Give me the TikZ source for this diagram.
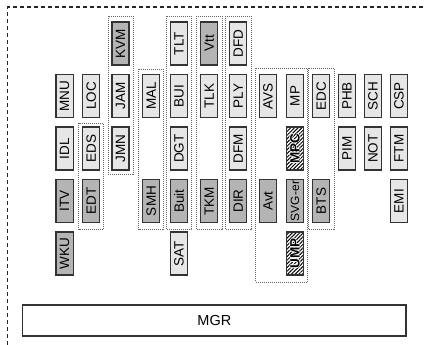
\documentclass[tikz,border=0pt]{standalone}
\usepackage{fontspec}
\setmainfont{Liberation Sans}
\usetikzlibrary{calc,patterns.meta}
\definecolor{lightfill}{HTML}{E6E6E6}
\definecolor{darkfill}{HTML}{B4B4B4}
\definecolor{edge}{HTML}{333333}
\tikzset{
  box/.style={draw=edge, line width=1.2bp, minimum width=17bp, minimum height=43bp,
    inner sep=0pt, font=\fontsize{13.5bp}{15bp}\selectfont},
  lbox/.style={box, fill=lightfill},
  dbox/.style={box, fill=darkfill},
  hbox/.style={box, fill=white, pattern={Lines[angle=45,distance=2.6bp,line width=1bp]}},
  grp/.style={draw=black!60, line width=0.75bp, dash pattern=on 1bp off 1bp},
  frame/.style={draw=black!85, line width=1.1bp, dash pattern=on 4bp off 3bp},
  mgrbox/.style={draw=edge, line width=1.2bp, fill=white, inner sep=0pt,
    font=\fontsize{14.5bp}{16bp}\selectfont}
}
\newcommand{\rt}[1]{\rotatebox{90}{#1}}
\newcommand{\halotext}[1]{\leavevmode
  \rlap{\color{white}\hspace{-0.7bp}#1}%
  \rlap{\color{white}\hspace{0.7bp}#1}%
  \rlap{\color{white}\raisebox{0.7bp}{#1}}%
  \rlap{\color{white}\raisebox{-0.7bp}{#1}}%
  #1}
\begin{document}
\begin{tikzpicture}[x=1bp,y=-1bp]
\useasboundingbox (0,0) rectangle (425,345);
% outer frame
\coordinate (fa) at (7.5,345);
\coordinate (fb) at (7.5,7);
\coordinate (fc) at (425,7);
\draw[frame] (fa) -- (fb) -- (fc);
% row 1
\node[dbox] (KVM) at (120.5,43.5) {\rt{KVM}};
\node[lbox] (TLT) at (179,43.5) {\rt{TLT}};
\node[dbox] (Vtt) at (209.3,43.5) {\rt{Vtt}};
\node[lbox] (DFD) at (238.3,43.5) {\rt{DFD}};
% row 2
\node[lbox] (MNU) at (64.6,96) {\rt{MNU}};
\node[lbox] (LOC) at (91.2,96) {\rt{LOC}};
\node[lbox] (JAM) at (120.5,96) {\rt{JAM}};
\node[lbox] (MAL) at (151.2,96) {\rt{MAL}};
\node[lbox] (BUI) at (179,96) {\rt{BUI}};
\node[lbox] (TLK) at (209.3,96) {\rt{TLK}};
\node[lbox] (PLY) at (238.3,96) {\rt{PLY}};
\node[lbox] (AVS) at (268,96) {\rt{AVS}};
\node[lbox] (MP) at (295,96) {\rt{MP}};
\node[lbox] (EDC) at (321.3,96) {\rt{EDC}};
\node[lbox] (PHB) at (347,96) {\rt{PHB}};
\node[lbox] (SCH) at (373,96) {\rt{SCH}};
\node[lbox] (CSP) at (399,96) {\rt{CSP}};
% row 3
\node[lbox] (IDL) at (64.6,148.5) {\rt{IDL}};
\node[lbox] (EDS) at (91.2,148.5) {\rt{EDS}};
\node[lbox] (JMN) at (120.5,148.5) {\rt{JMN}};
\node[lbox] (DGT) at (179,148.5) {\rt{DGT}};
\node[lbox] (DFM) at (238.3,148.5) {\rt{DFM}};
\node[hbox] (MPC) at (295,148.5) {\rt{\bfseries\halotext{MPC}}};
\node[lbox] (PIM) at (347,148.5) {\rt{PIM}};
\node[lbox] (NOT) at (373,148.5) {\rt{NOT}};
\node[lbox] (FTM) at (399,148.5) {\rt{FTM}};
% row 4
\node[dbox] (ITV) at (64.6,201) {\rt{ITV}};
\node[dbox] (EDT) at (91.2,201) {\rt{EDT}};
\node[dbox] (SMH) at (151.2,201) {\rt{SMH}};
\node[dbox] (Buit) at (179,201) {\rt{Buit}};
\node[dbox] (TKM) at (209.3,201) {\rt{TKM}};
\node[dbox] (DIR) at (238.3,201) {\rt{DIR}};
\node[dbox] (Avt) at (268,201) {\rt{Avt}};
\node[dbox] (SVG) at (295,201) {\rt{\fontsize{12bp}{13bp}\selectfont SVG-er}};
\node[dbox] (BTS) at (321.3,201) {\rt{BTS}};
\node[lbox] (EMI) at (399,201) {\rt{EMI}};
% row 5
\node[dbox] (WKU) at (64.6,253.5) {\rt{WKU}};
\node[lbox] (SAT) at (179,253.5) {\rt{SAT}};
\node[hbox] (UMP) at (295,253.5) {\rt{\bfseries\halotext{UMP}}};
% groups
\draw[grp] ($(EDS.north west)+(-3.5,-3)$) rectangle ($(EDT.south east)+(3.5,6.5)$);
\draw[grp] ($(KVM.north west)+(-3.5,-5)$) rectangle ($(JMN.south east)+(3.5,3.5)$);
\draw[grp] ($(MAL.north west)+(-3.5,-5)$) rectangle ($(SMH.south east)+(3.5,6.5)$);
\draw[grp] ($(TLT.north west)+(-3.5,-5.5)$) rectangle ($(Buit.south east)+(3.5,6.5)$);
\draw[grp] ($(Vtt.north west)+(-3.5,-5.5)$) rectangle ($(TKM.south east)+(3.5,6.5)$);
\draw[grp] ($(DFD.north west)+(-3.5,-5.5)$) rectangle ($(DIR.south east)+(3.5,6.5)$);
\draw[grp] ($(AVS.north west)+(-3.5,-5.5)$) rectangle ($(UMP.south east)+(3.5,6.5)$);
\draw[grp] ($(EDC.north west)+(-3.5,-5.5)$) rectangle ($(BTS.south east)+(3.5,6.5)$);
% MGR
\node[mgrbox, minimum width=383.3bp, minimum height=31bp] (MGR) at (214.35,320.5) {MGR};
\end{tikzpicture}
\end{document}
